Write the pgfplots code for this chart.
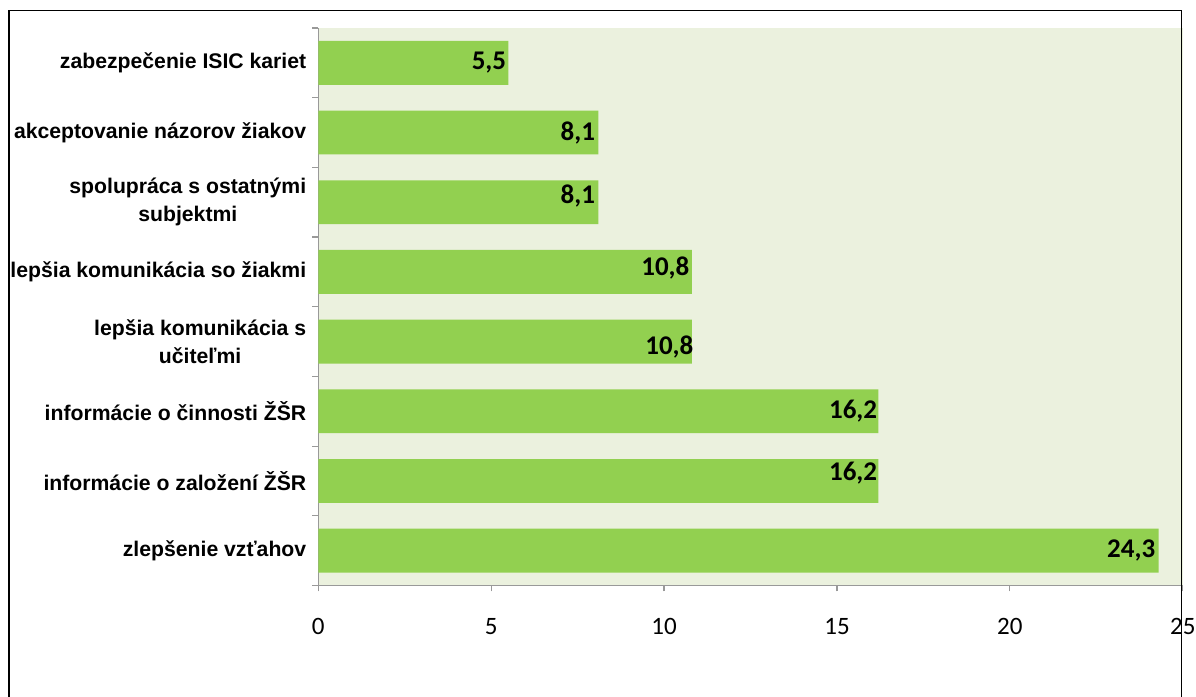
\documentclass[border=0pt]{standalone}
\usepackage{fontspec}
\setmainfont{Liberation Sans}
\newfontfamily\carlito{Carlito}
\usepackage{pgfplots}
\usepackage{pgfplotstable}
\pgfplotsset{compat=1.18}
\definecolor{barg}{RGB}{146,208,80}
\definecolor{bgg}{RGB}{235,241,222}
\pgfplotstableread{
y x dx dy lab
0 24.3 -1.5 0 24,3
1 16.2 -0.5 4 16,2
2 16.2 -0.5 0 16,2
3 10.8 1 -2.5 10,8
4 10.8 -1 2 10,8
5 8.1 -1.5 3 8,1
6 8.1 -1.5 0 8,1
7 5.5 -1 0 5,5
}\data
\begin{document}
\begin{tikzpicture}
\useasboundingbox (0,0) rectangle (598pt,348.5pt);
\fill[white] (0,0) rectangle (598pt,348.5pt);
\begin{axis}[
  at={(159.15pt,55.75pt)}, anchor=south west,
  scale only axis, width=432.25pt, height=278.75pt,
  xbar, bar width=0.63,
  xmin=0, xmax=25, ymin=-0.5, ymax=7.5,
  axis background/.style={fill=bgg},
  axis x line=bottom, axis y line=left,
  axis line style={-, draw=gray!80, line width=0.6pt},
  tick align=outside, major tick length=3pt, minor tick length=3pt,
  tick style={draw=gray!80, line width=0.6pt},
  xtick={0,5,...,25},
  ytick={0,...,7},
  minor ytick={-0.5,0.5,...,7.5},
  every major y tick/.style={draw=none},
  yticklabels={{zlepšenie vzťahov},{informácie o založení ŽŠR},{informácie o činnosti ŽŠR},{lepšia komunikácia s\\učiteľmi},{lepšia komunikácia so žiakmi},{spolupráca s ostatnými\\subjektmi},{akceptovanie názorov žiakov},{zabezpečenie ISIC kariet}},
  yticklabel style={font=\bfseries\fontsize{10.6}{14}\selectfont, align=center, xshift=0.5pt},
  xticklabel style={font=\carlito\fontsize{12.5}{15}\selectfont, yshift=-10pt},
  /pgf/number format/assume math mode=true,
  nodes near coords,
  point meta=explicit symbolic,
  visualization depends on={\thisrow{dx} \as \dx},
  visualization depends on={\thisrow{dy} \as \dy},
  every node near coord/.append style={anchor=east, inner sep=0pt, xshift=\dx pt, yshift=\dy pt, font=\carlito\bfseries\fontsize{13.5}{16}\selectfont, text=black},
]
\addplot[fill=barg, draw=none] table[x=x, y=y, meta=lab] {\data};
\end{axis}
\draw[black, line width=0.8pt] (4.5pt,-10pt) -- (4.5pt,343.2pt) -- (590.8pt,343.2pt) -- (590.8pt,-10pt);
\end{tikzpicture}
\end{document}
